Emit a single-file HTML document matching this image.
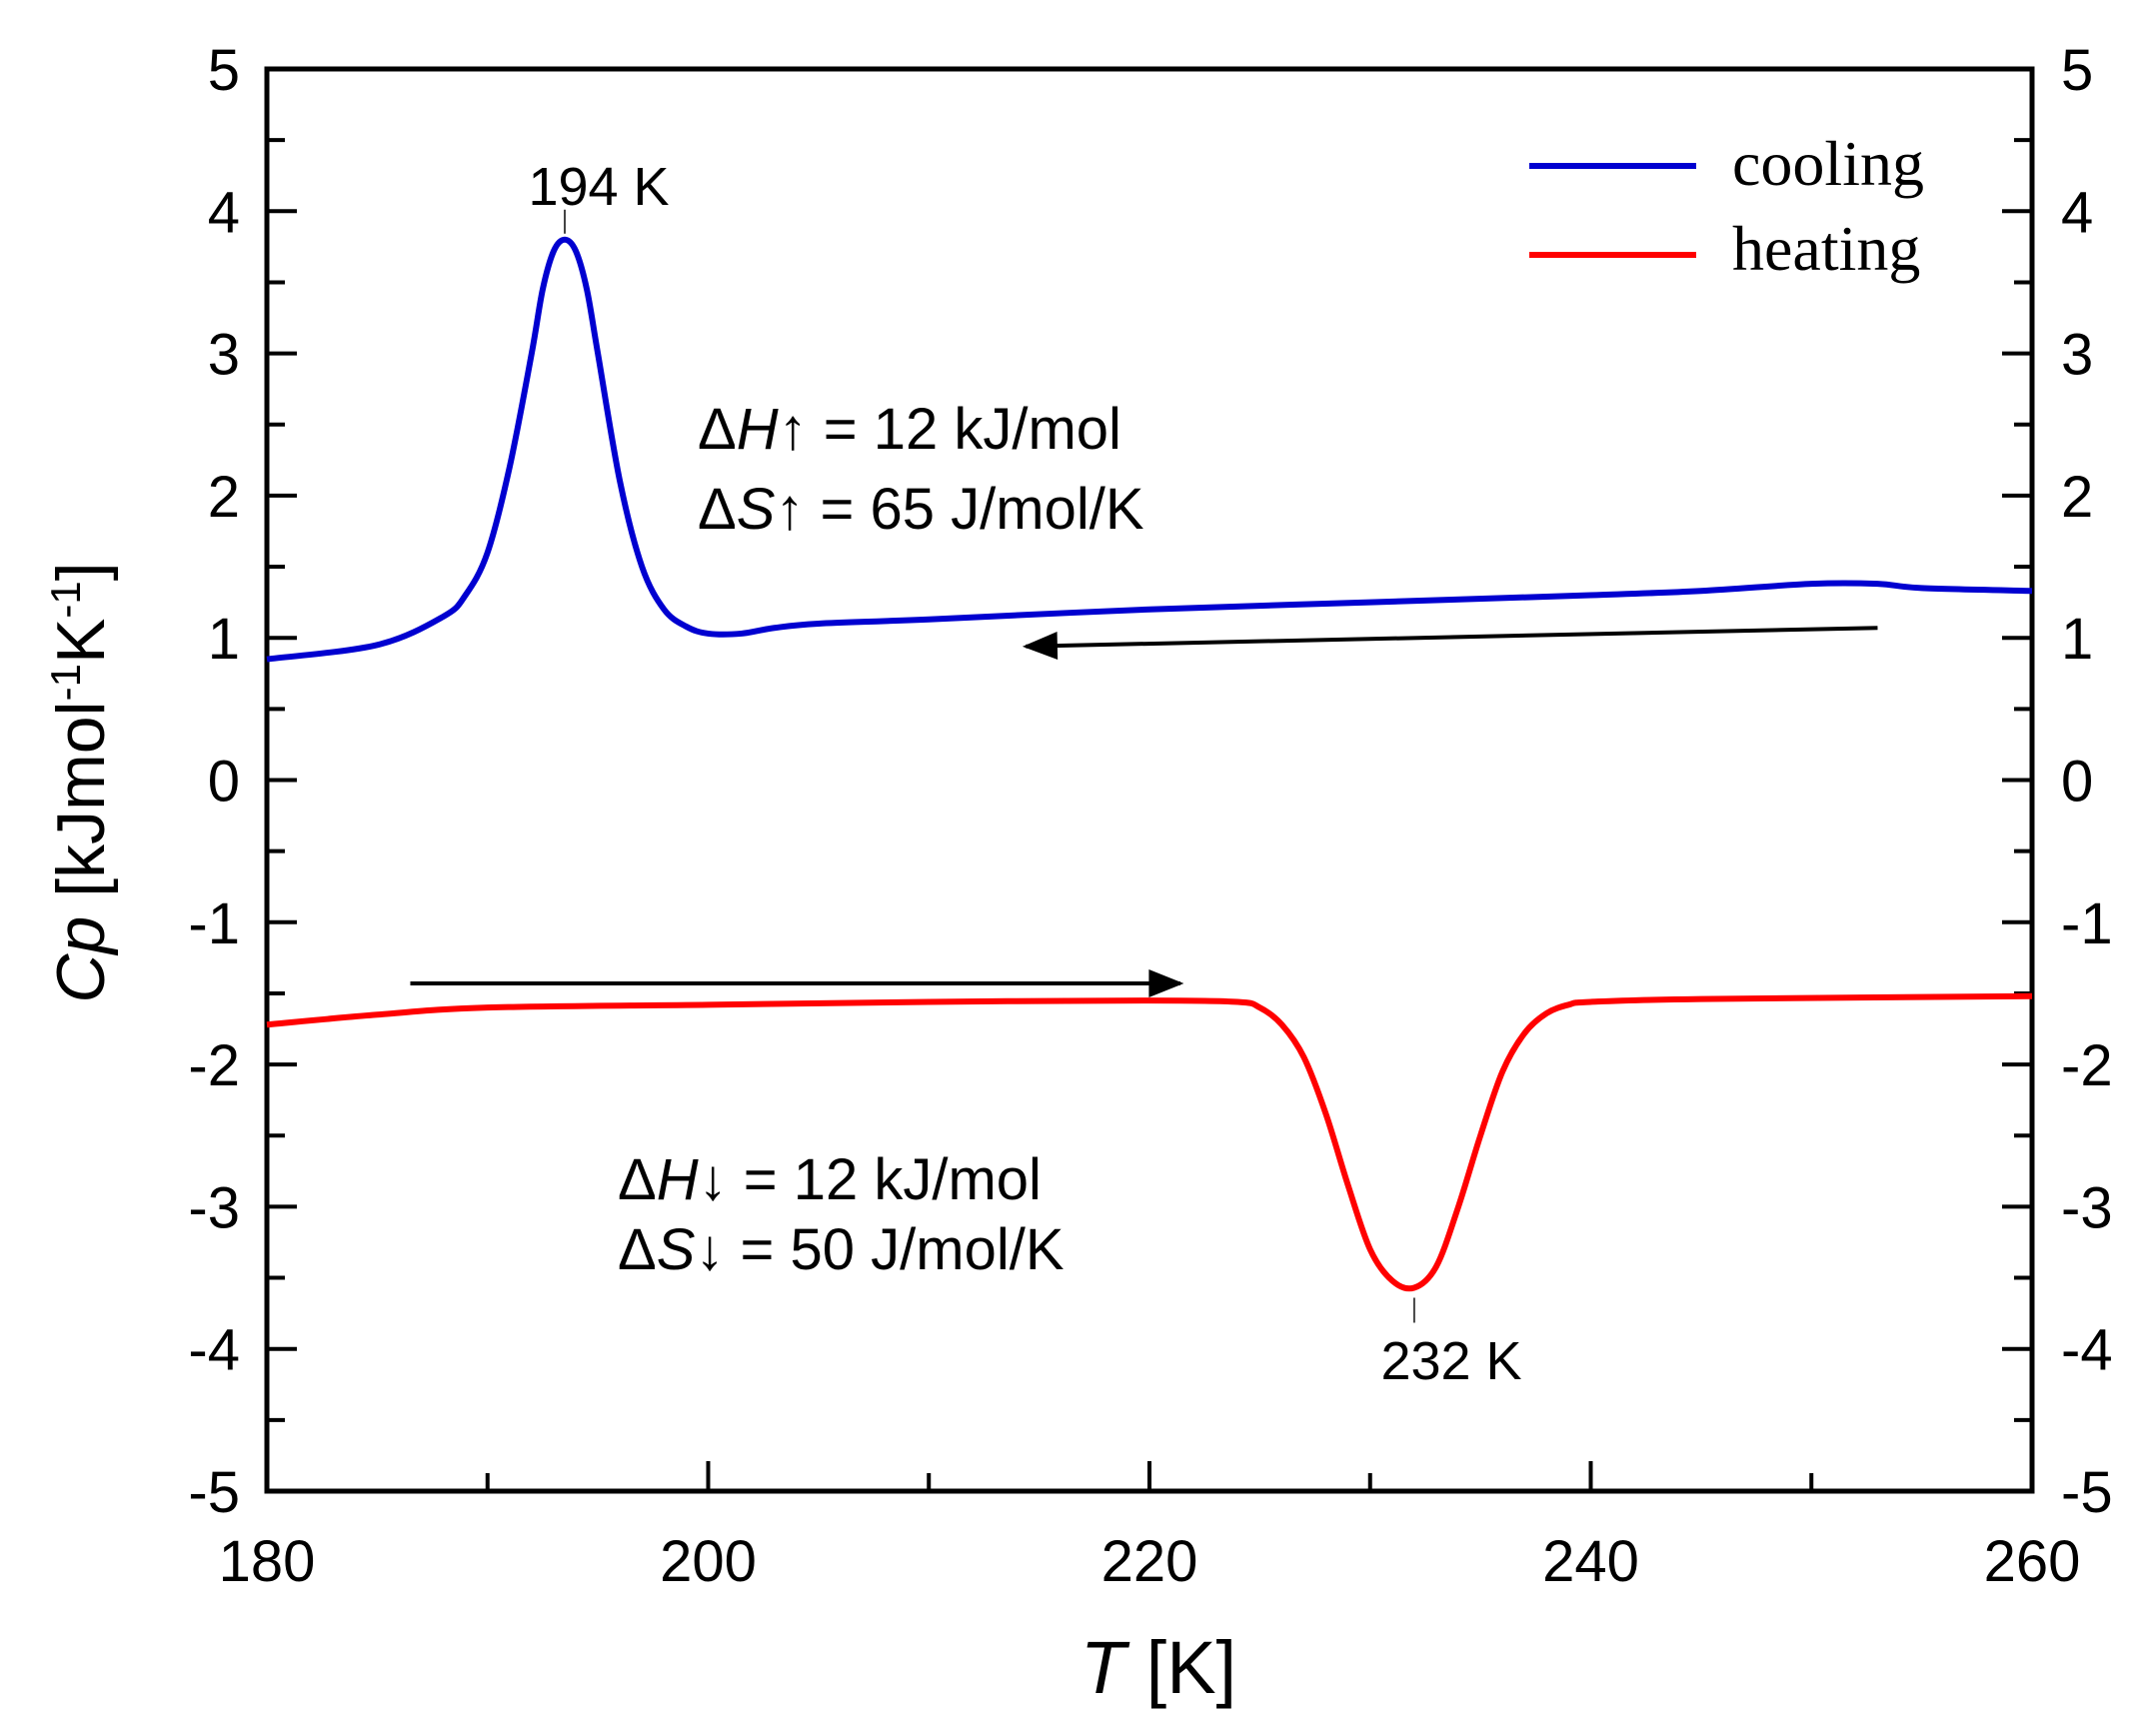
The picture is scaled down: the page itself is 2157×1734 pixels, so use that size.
<!DOCTYPE html>
<html><head><meta charset="utf-8"><style>
html,body{margin:0;padding:0;background:#fff;}
svg{display:block;}
text{font-family:"Liberation Sans",Arial,sans-serif;fill:#000;}
</style></head><body>
<svg id="chart" width="2157" height="1734" viewBox="0 0 2157 1734" xmlns="http://www.w3.org/2000/svg">
<defs><marker id="ah" markerWidth="36" markerHeight="28" refX="9" refY="4" orient="auto" markerUnits="userSpaceOnUse" viewBox="0 0 10 8"><path d="M0,0 L10,4 L0,8 Z" fill="#000"/></marker></defs>
<g id="axes"></g>
<g id="series"></g>
<g id="annot">
<text x="599" y="205" font-size="54" text-anchor="middle">194 K</text>
<text x="1452" y="1380" font-size="54" text-anchor="middle">232 K</text>
<text x="698" y="449" font-size="58">Δ<tspan font-style="italic">H</tspan>↑ = 12 kJ/mol</text>
<text x="698" y="529" font-size="58">Δ<tspan font-style="italic">S</tspan>↑ = 65 J/mol/K</text>
<text x="618" y="1200" font-size="58">Δ<tspan font-style="italic">H</tspan>↓ = 12 kJ/mol</text>
<text x="618" y="1270" font-size="58">Δ<tspan font-style="italic">S</tspan>↓ = 50 J/mol/K</text>
<text x="1159" y="1694" font-size="74" text-anchor="middle"><tspan font-style="italic">T</tspan> [K]</text>
<text transform="translate(104,783) rotate(-90)" font-size="68" text-anchor="middle"><tspan font-style="italic">Cp</tspan> [kJmol<tspan dy="-24" font-size="42">-1</tspan><tspan dy="24">K</tspan><tspan dy="-24" font-size="42">-1</tspan><tspan dy="24">]</tspan></text>
</g>
<g id="legend">
<line x1="1530" y1="166" x2="1697" y2="166" stroke="#0000d0" stroke-width="6"/>
<text x="1733" y="185" font-size="64" style="font-family:'Liberation Serif',serif">cooling</text>
<line x1="1530" y1="255" x2="1697" y2="255" stroke="#ff0000" stroke-width="6"/>
<text x="1733" y="270" font-size="64" style="font-family:'Liberation Serif',serif">heating</text>
</g>
</svg>
<script>
const coolT = [180,185,188,189,190,191,192,192.5,193,193.5,194,194.5,195,196,197,198,199,200,201.5,203,205,210,220,230,240,245,250,253,255,260];
const coolCp = [0.85,0.95,1.15,1.3,1.6,2.2,3.0,3.45,3.72,3.8,3.72,3.45,3.0,2.1,1.5,1.2,1.08,1.03,1.03,1.07,1.1,1.13,1.2,1.25,1.3,1.33,1.38,1.38,1.35,1.33];
const heatT = [180,185,190,200,210,220,224,225,226,227,228,229,230,231,232,233,234,235,236,237,238,239,240,245,260];
const heatCp = [-1.72,-1.65,-1.6,-1.58,-1.56,-1.55,-1.56,-1.6,-1.72,-1.95,-2.35,-2.85,-3.3,-3.52,-3.57,-3.42,-3.0,-2.5,-2.05,-1.78,-1.64,-1.58,-1.56,-1.54,-1.52];
const xTicks = [180,200,220,240,260];
const yTicks = [5,4,3,2,1,0,-1,-2,-3,-4,-5];
const coolArrow = [253.0,1.07,214.4,0.94];
const heatArrow = [186.5,-1.43,221.4,-1.43];

const X0=267,X1=2033,Y0=69,Y1=1492;
const sx=t=>X0+(t-180)/80*(X1-X0);
const sy=v=>Y0+(5-v)/10*(Y1-Y0);
const NS="http://www.w3.org/2000/svg";
function mk(tag,attrs,parent){const e=document.createElementNS(NS,tag);for(const k in attrs)e.setAttribute(k,attrs[k]);parent.appendChild(e);return e;}
const axes=document.getElementById('axes');
const frame=mk('rect',{x:X0,y:Y0,width:X1-X0,height:Y1-Y0,fill:'none',stroke:'#000','stroke-width':5},axes);


for(let t=180;t<=260;t+=10){
  const maj=xTicks.includes(t);const L=maj?30:18;
  const tk=mk('line',{x1:sx(t),y1:Y1,x2:sx(t),y2:Y1-L,stroke:'#000','stroke-width':4},axes);
  
  
}
xTicks.forEach(t=>{
  const tx=mk('text',{x:sx(t),y:1582,'font-size':58,'text-anchor':'middle'},axes);tx.textContent=t;
  
  
});
for(let v=-5;v<=5;v+=0.5){
  const maj=Number.isInteger(v);const L=maj?30:18;
  [[X0,1],[X1,-1]].forEach(([x,d])=>{
    const tk=mk('line',{x1:x,y1:sy(v),x2:x+d*L,y2:sy(v),stroke:'#000','stroke-width':4},axes);
    
    
  });
}
yTicks.forEach(v=>{
  const a=mk('text',{x:240,y:sy(v)+21,'font-size':58,'text-anchor':'end'},axes);a.textContent=v;
  
  
  const b=mk('text',{x:2062,y:sy(v)+21,'font-size':58,'text-anchor':'start'},axes);b.textContent=v;
  
  
});
function smooth(T,V){
  const p=T.map((t,i)=>[sx(t),sy(V[i])]);
  let d='M'+p[0][0]+','+p[0][1];
  for(let i=0;i<p.length-1;i++){
    const p0=p[i-1]||p[i],p1=p[i],p2=p[i+1],p3=p[i+2]||p2;
    const c1=[p1[0]+(p2[0]-p0[0])/6,p1[1]+(p2[1]-p0[1])/6];
    const c2=[p2[0]-(p3[0]-p1[0])/6,p2[1]-(p3[1]-p1[1])/6];
    d+=' C'+c1+' '+c2+' '+p2;
  }
  return d;
}
const series=document.getElementById('series');
const cl=mk('path',{d:smooth(coolT,coolCp),fill:'none',stroke:'#0000d0','stroke-width':6,'stroke-linejoin':'round'},series);


const hl=mk('path',{d:smooth(heatT,heatCp),fill:'none',stroke:'#ff0000','stroke-width':6,'stroke-linejoin':'round'},series);


const ci=coolCp.indexOf(Math.max(...coolCp));
const pm1=mk('line',{x1:sx(coolT[ci]),y1:sy(coolCp[ci])-6,x2:sx(coolT[ci]),y2:sy(coolCp[ci])-30,stroke:'#444','stroke-width':2},series);


const hi=heatCp.indexOf(Math.min(...heatCp));
const pm2=mk('line',{x1:sx(heatT[hi]),y1:sy(heatCp[hi])+10,x2:sx(heatT[hi]),y2:sy(heatCp[hi])+35,stroke:'#444','stroke-width':2},series);


[[coolArrow,'cooling-arrow'],[heatArrow,'heating-arrow']].forEach(([a,n])=>{
  const l=mk('line',{x1:sx(a[0]),y1:sy(a[1]),x2:sx(a[2]),y2:sy(a[3]),stroke:'#000','stroke-width':4,'marker-end':'url(#ah)'},series);
  
  
});
</script>
</body></html>
